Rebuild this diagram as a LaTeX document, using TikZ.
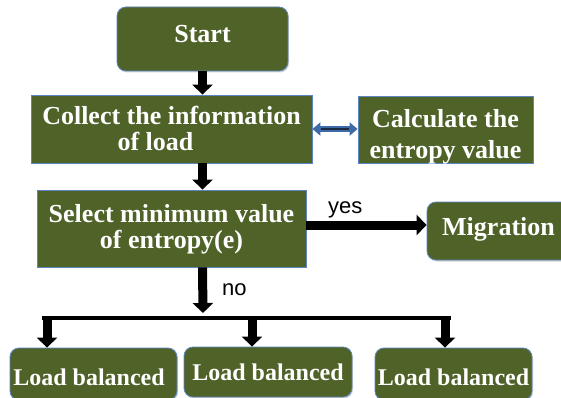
\documentclass[tikz,border=0pt]{standalone}
\usepackage{fontspec}
\setmainfont{Liberation Serif}
\newfontfamily\sansf{Liberation Sans}
\usetikzlibrary{arrows.meta,shadows}
\definecolor{boxfill}{HTML}{4F6228}
\definecolor{boxedge}{HTML}{5B86C2}
\definecolor{navyline}{HTML}{1C2A44}
\definecolor{arrowblue}{HTML}{3E6BA8}
\begin{document}
\begin{tikzpicture}[x=1pt,y=-1pt,
  box/.style={draw=boxedge, line width=0.8pt, fill=boxfill, text=white,
    align=center, inner sep=0pt},
  big/.style={font=\bfseries\fontsize{26}{#1}\selectfont},
  rbox/.style={box, rounded corners=9pt,
    drop shadow={opacity=0.35, shadow xshift=1pt, shadow yshift=-1.5pt}},
  flow/.style={line width=9pt, -{Triangle[width=20pt,length=10pt]}},
  lab/.style={font=\sansf\fontsize{22}{22}\selectfont, inner sep=0pt, anchor=base west}]
\path[use as bounding box] (0,0) rectangle (561,398);
\clip (0,0) rectangle (561,398);

% boxes
\node[rbox, big=25, minimum width=171pt, minimum height=64pt,
      text height=8pt, text depth=0pt] (start) at (202.5,39) {Start};
\node[box, big=25, minimum width=281pt, minimum height=68pt,
      text height=42pt, text depth=0pt] (collect) at (171.5,129)
      {Collect the information\\ of load\hspace*{32pt}};
\node[box, big=31, minimum width=175pt, minimum height=67pt,
      text height=57pt, text depth=0pt] (calc) at (445.5,129.5)
      {Calculate the\\ entropy value};
\node[box, big=26, minimum width=269pt, minimum height=77pt,
      text height=39pt, text depth=0pt] (select) at (171.5,228.5)
      {Select minimum value\\ of entropy(e)};
\node[rbox, big=26, minimum width=173pt, minimum height=58pt,
      text height=8pt, text depth=0pt] (mig) at (513.5,231) {Migration\hspace*{30pt}};
\node[rbox, font=\bfseries\fontsize{24}{24}\selectfont, minimum width=167pt, minimum height=52pt,
      text height=22pt, text depth=0pt] (l1) at (93.5,374) {Load balanced\hspace*{9pt}};
\node[rbox, font=\bfseries\fontsize{24}{24}\selectfont, minimum width=168pt, minimum height=50pt,
      text height=16pt, text depth=0pt] (l2) at (268,372) {Load balanced};
\node[rbox, font=\bfseries\fontsize{24}{24}\selectfont, minimum width=157pt, minimum height=52pt,
      text height=22pt, text depth=0pt] (l3) at (453.5,374) {Load balanced};

% labels
\node[lab] (yes) at (328,213) {yes};
\node[lab] (no) at (222,295) {no};

% connectors
\draw[flow] (start.south) -- (start.south |- collect.north);
\draw[flow] (start.south |- collect.south) -- (start.south |- select.north);
\draw[flow] ([yshift=3.5pt]select.east) -- ([yshift=3.5pt]select.east -| mig.west);
\coordinate (j) at (203,313);
\draw[flow] (start.south |- select.south) -- (j);
\coordinate (bl) at (42,318);
\coordinate (br) at (451,318);
\draw[line width=4pt] (bl) -- (br);
\coordinate (a1) at (47,318);
\coordinate (a2) at (252,318);
\coordinate (a3) at (445,318);
\draw[flow] (a1) -- (a1 |- l1.north);
\draw[flow] (a2) -- (a2 |- l2.north);
\draw[flow] (a3) -- (a3 |- l3.north);

% double arrow
\draw[arrowblue, line width=6pt, {Triangle[width=13pt,length=8pt]}-{Triangle[width=13pt,length=8pt]}]
  (collect.east) -- (collect.east -| calc.west);
\draw[navyline, line width=2.2pt, shorten <=9pt, shorten >=9pt]
  (collect.east) -- (collect.east -| calc.west);
\end{tikzpicture}
\end{document}
